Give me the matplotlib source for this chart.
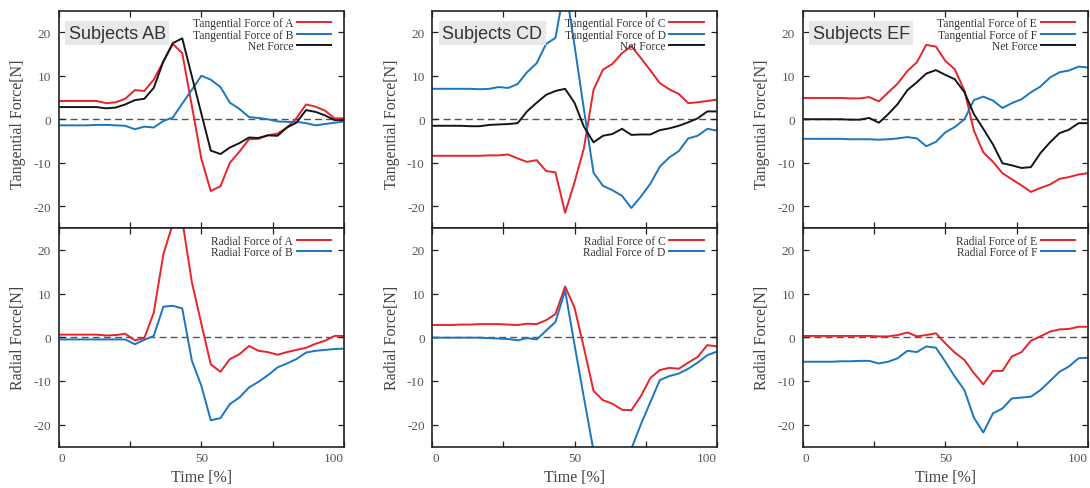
import matplotlib
matplotlib.use('Agg')
import matplotlib.pyplot as plt

plt.rcParams['axes.unicode_minus'] = False

# ---------------- data ----------------
time = [0, 3.3, 6.7, 10, 13.3, 16.7, 20, 23.3, 26.7, 30, 33.3, 36.7, 40, 43.3, 46.7,
        50, 53.3, 56.7, 60, 63.3, 66.7, 70, 73.3, 76.7, 80, 83.3, 86.7, 90, 93.3, 96.7, 100]

tan_a = [4.2, 4.2, 4.2, 4.2, 4.2, 3.7, 3.9, 4.7, 6.7, 6.5, 9.1, 13.3, 17.3, 15.2, 3.0,
         -9.1, -16.5, -15.4, -10.0, -7.5, -4.6, -4.5, -3.7, -3.3, -1.9, 0.2, 3.4, 2.9, 2.0, 0.2, 0.2]
tan_b = [-1.4, -1.4, -1.4, -1.4, -1.3, -1.3, -1.4, -1.5, -2.3, -1.7, -1.9, -0.4, 0.4, 3.6, 6.8,
         10.0, 9.1, 7.4, 3.8, 2.4, 0.5, 0.3, 0.0, -0.5, -0.6, -0.6, -0.9, -1.4, -1.1, -0.8, -0.5]
net_ab = [2.8, 2.8, 2.8, 2.8, 2.8, 2.5, 2.7, 3.4, 4.4, 4.7, 7.2, 13.3, 17.5, 18.6, 9.8,
          1.3, -7.2, -8.0, -6.5, -5.5, -4.2, -4.3, -3.7, -3.8, -1.9, -0.8, 2.1, 1.7, 0.9, -0.2, -0.2]
rad_a = [0.6, 0.6, 0.6, 0.6, 0.6, 0.4, 0.5, 0.8, -0.7, -0.2, 5.6, 19.0, 26.0, 26.8, 12.5,
         3.1, -6.2, -7.9, -5.0, -3.9, -2.0, -3.1, -3.4, -4.0, -3.4, -2.9, -2.4, -1.5, -0.8, 0.3, 0.3]
rad_b = [-0.5, -0.5, -0.5, -0.5, -0.5, -0.5, -0.5, -0.5, -1.6, -0.6, 0.3, 7.0, 7.2, 6.6, -5.4,
         -11.1, -19.0, -18.5, -15.3, -13.8, -11.5, -10.2, -8.7, -6.9, -6.0, -5.0, -3.5, -3.1, -2.9, -2.7, -2.6]

tan_c = [-8.4, -8.4, -8.4, -8.4, -8.4, -8.4, -8.3, -8.3, -8.1, -9.0, -9.8, -9.4, -11.9, -12.2, -21.5,
         -14.5, -6.7, 6.8, 11.4, 12.7, 15.2, 16.8, 14.1, 11.2, 8.3, 6.9, 5.8, 3.7, 3.9, 4.2, 4.5]
tan_d = [7.0, 7.0, 7.0, 7.0, 7.0, 6.9, 7.0, 7.4, 7.2, 8.1, 10.8, 12.9, 17.3, 18.7, 31.0,
         17.0, 2.3, -12.3, -15.3, -16.3, -17.6, -20.4, -17.8, -14.8, -10.9, -8.8, -7.3, -4.4, -3.8, -2.2, -2.6]
net_cd = [-1.5, -1.5, -1.5, -1.5, -1.6, -1.6, -1.3, -1.2, -1.1, -0.9, 1.8, 3.8, 5.6, 6.5, 7.0,
          3.8, -1.7, -5.3, -3.8, -3.4, -2.2, -3.6, -3.5, -3.5, -2.5, -2.1, -1.5, -0.7, 0.2, 1.8, 1.8]
rad_c = [2.8, 2.8, 2.8, 2.9, 2.9, 3.0, 3.0, 3.0, 2.9, 2.8, 3.1, 3.0, 3.9, 5.3, 11.6,
         6.8, -2.4, -12.3, -14.4, -15.2, -16.6, -16.7, -13.5, -9.3, -7.5, -7.0, -7.2, -5.8, -4.5, -1.8, -2.1]
rad_d = [-0.1, -0.1, -0.1, -0.1, -0.1, -0.1, -0.2, -0.3, -0.4, -0.7, -0.2, -0.5, 1.5, 3.5, 10.7,
         -1.7, -13.8, -26.0, -30.0, -32.0, -33.0, -25.5, -20.0, -14.8, -9.8, -8.9, -8.3, -7.2, -5.8, -4.1, -3.3]

tan_e = [4.9, 4.9, 4.9, 4.9, 4.9, 4.8, 4.8, 5.1, 4.1, 6.2, 8.2, 11.1, 13.1, 17.1, 16.7,
         13.4, 11.5, 6.6, -2.6, -7.6, -9.8, -12.4, -13.8, -15.2, -16.7, -15.8, -15.0, -13.7, -13.3, -12.7, -12.4]
tan_f = [-4.5, -4.5, -4.5, -4.5, -4.5, -4.6, -4.6, -4.6, -4.7, -4.6, -4.4, -4.1, -4.4, -6.2, -5.2,
         -3.0, -1.8, 0.0, 4.4, 5.2, 4.3, 2.6, 3.7, 4.6, 6.2, 7.5, 9.6, 10.8, 11.2, 12.1, 11.9]
net_ef = [0.0, 0.0, 0.0, 0.0, 0.0, -0.1, -0.1, 0.3, -0.8, 1.2, 3.5, 6.7, 8.5, 10.5, 11.3,
          10.2, 9.2, 6.2, 1.2, -2.2, -5.8, -10.1, -10.6, -11.2, -11.0, -7.8, -5.3, -3.2, -2.4, -0.9, -0.9]
rad_e = [0.3, 0.3, 0.3, 0.3, 0.3, 0.3, 0.3, 0.3, 0.2, 0.2, 0.5, 1.1, 0.2, 0.5, 0.9,
         -1.4, -3.5, -5.2, -8.2, -10.8, -7.7, -7.7, -4.4, -3.4, -0.8, 0.2, 1.3, 1.8, 1.9, 2.4, 2.4]
rad_f = [-5.6, -5.6, -5.6, -5.6, -5.5, -5.5, -5.4, -5.4, -6.0, -5.6, -4.8, -3.1, -3.4, -2.1, -2.4,
         -5.6, -9.0, -12.1, -18.4, -21.8, -17.4, -16.3, -14.0, -13.8, -13.6, -12.1, -10.0, -7.9, -6.7, -4.8, -4.7]

subjects = ['AB', 'CD', 'EF']
tan_sets = [(tan_a, tan_b, net_ab), (tan_c, tan_d, net_cd), (tan_e, tan_f, net_ef)]
rad_sets = [(rad_a, rad_b), (rad_c, rad_d), (rad_e, rad_f)]

yticks = [-20, -10, 0, 10, 20]
xticks = [0, 25, 50, 75, 100]
xticklabels = ['0', '', '50', '', '100']

RED = '#e8232b'
BLUE = '#1b75bf'
BLACK = '#151515'
SERIF = 'Liberation Serif'
SANS = 'Liberation Sans'
TXT = '#444444'

fig = plt.figure(figsize=(10.9, 4.89), dpi=100)
W, H = 1090.0, 489.0

col_left = [58.7, 432.3, 802.7]
col_right = [344.0, 716.7, 1088.0]
top_px, mid_px, bot_px = 11.5, 229.0, 447.5


def style(ax, show_xlabels):
    ax.set_xlim(0, 100)
    ax.set_ylim(-25, 25)
    ax.set_yticks(yticks)
    ax.set_xticks(xticks)
    if show_xlabels:
        ax.set_xticklabels(xticklabels)
        labs = ax.get_xticklabels()
        labs[0].set_horizontalalignment('left')
        labs[-1].set_horizontalalignment('right')
    else:
        ax.set_xticklabels([])
    ax.tick_params(direction='in', length=4.5, width=0.9, top=True, right=True,
                   labelsize=9.5, labelcolor='#555555', color='#222222', pad=5.5)
    ax.tick_params(axis='x', pad=4)
    for lab in ax.get_xticklabels() + ax.get_yticklabels():
        lab.set_family(SERIF)
    for sp in ax.spines.values():
        sp.set_linewidth(1.2)
        sp.set_color('#222222')
    ax.axhline(0, color='#555555', lw=1.0, dashes=(5, 3), zorder=1)


def add_legend(ax):
    leg = ax.legend(loc='upper right', bbox_to_anchor=(0.955, 0.97), frameon=False,
                    markerfirst=False, handlelength=3.0, handletextpad=0.3,
                    labelspacing=-0.04, borderaxespad=0, borderpad=0,
                    prop={'family': SERIF, 'size': 8.3})
    for t in leg.get_texts():
        t.set_color('#333333')


for i in range(3):
    l = col_left[i] / W
    w = (col_right[i] - col_left[i]) / W
    ax_t = fig.add_axes([l, 1 - mid_px / H, w, (mid_px - top_px) / H])
    ax_b = fig.add_axes([l, 1 - bot_px / H, w, (bot_px - mid_px) / H])
    s1, s2 = subjects[i][0], subjects[i][1]

    ta, tb, tn = tan_sets[i]
    style(ax_t, False)
    ax_t.plot(time, ta, color=RED, lw=1.4, label='Tangential Force of ' + s1)
    ax_t.plot(time, tb, color=BLUE, lw=1.4, label='Tangential Force of ' + s2)
    ax_t.plot(time, tn, color=BLACK, lw=1.4, label='Net Force')
    ax_t.set_ylabel('Tangential Force[N]', family=SERIF, fontsize=11.5, color=TXT)
    ax_t.yaxis.set_label_coords(-0.115, 0.48)
    add_legend(ax_t)
    ax_t.text(0.035, 0.895, 'Subjects ' + subjects[i], transform=ax_t.transAxes,
              ha='left', va='center', fontsize=13, family=SANS, color='#333333',
              bbox=dict(facecolor='#e8e8e8', edgecolor='none', pad=2.5), zorder=5)

    ra, rb = rad_sets[i]
    style(ax_b, True)
    ax_b.plot(time, ra, color=RED, lw=1.4, label='Radial Force of ' + s1)
    ax_b.plot(time, rb, color=BLUE, lw=1.4, label='Radial Force of ' + s2)
    ax_b.set_ylabel('Radial Force[N]', family=SERIF, fontsize=11.5, color=TXT)
    ax_b.yaxis.set_label_coords(-0.115, 0.5)
    ax_b.set_xlabel('Time [%]', family=SERIF, fontsize=11.5, color=TXT)
    ax_b.xaxis.set_label_coords(0.5, -0.105)
    add_legend(ax_b)

fig.savefig('out.png', dpi=100)
